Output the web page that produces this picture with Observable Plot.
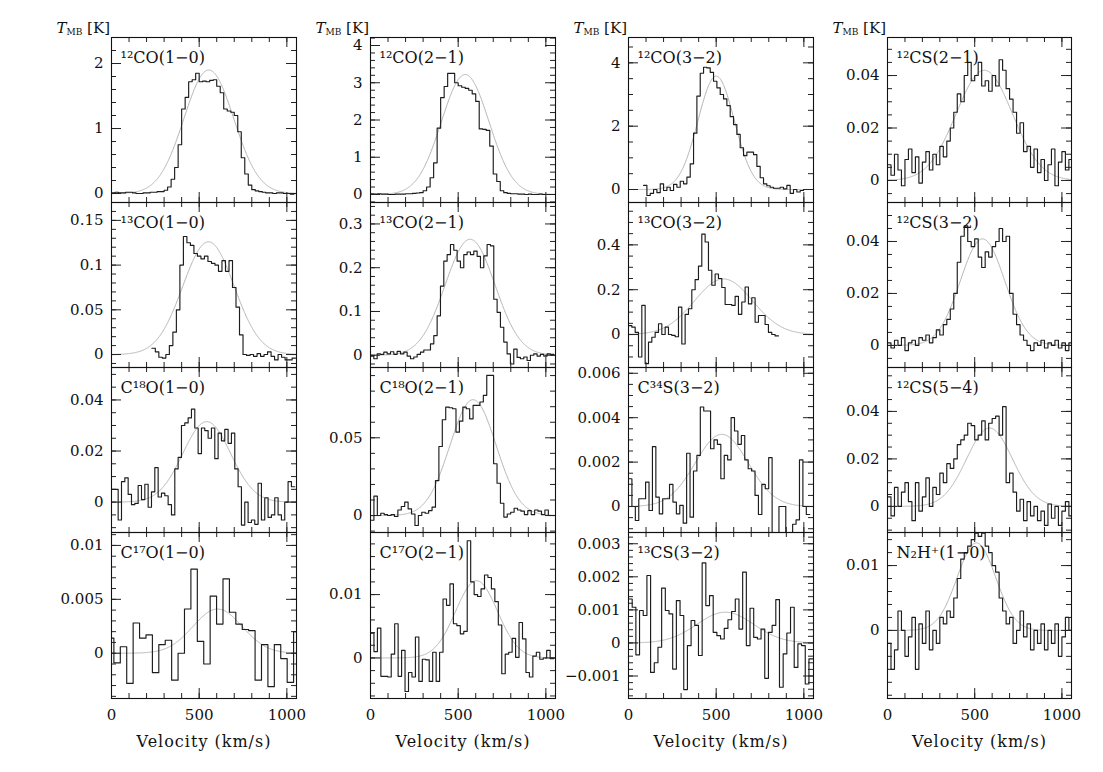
<!DOCTYPE html>
<html><head><meta charset="utf-8">
<script src="https://cdn.jsdelivr.net/npm/d3@7"></script>
<script src="https://cdn.jsdelivr.net/npm/@observablehq/plot@0.6"></script>
<style>
body{margin:0;background:#fff;}
#chart{position:relative;width:1103px;height:772px;font-family:"DejaVu Serif","Liberation Serif",serif;color:#111;}
#chart svg, #chart svg text{font-family:"DejaVu Serif","Liberation Serif",serif !important;}
#chart svg text.vlab{letter-spacing:1px;}
.ylab{position:absolute;font-size:15px;line-height:15px;white-space:nowrap;text-align:right;width:80px;font-family:"DejaVu Serif","Liberation Serif",serif;}
.ylab sub{font-size:9px;vertical-align:-2px;font-style:normal;}
</style></head><body><div id="chart"></div>
<script>
// ---------- spectra (T_MB in K), column-major: col1 CO(1-0) lines, col2 (2-1), col3 (3-2)/CS, col4 CS/N2H+ ----------
const co12_10 = [0.01,0.02,0.01,0.01,0.02,0.02,0.01,0.0,0.0,0.01,0.01,0.02,0.02,0.03,0.03,0.05,0.1,0.22,0.4,0.75,1.3,1.48,1.72,1.75,1.85,1.72,1.73,1.72,1.74,1.75,1.65,1.55,1.3,1.27,1.25,1.2,0.95,0.55,0.3,0.13,0.06,0.04,0.03,0.02,0.01,0.01,0.0,0.01,0.01,0.0,0.0,-0.01,0.0];
const co13_10 = [0.007,0.003,-0.003,-0.004,0.0,0.01,0.025,0.05,0.1,0.132,0.125,0.122,0.113,0.11,0.107,0.11,0.104,0.102,0.1,0.093,0.105,0.093,0.105,0.075,0.053,0.022,0.0,-0.001,0.0,-0.002,0.001,-0.002,0.0,0.003,-0.002,-0.006,0.0,-0.003,-0.006,-0.006,-0.004];
const c18o_10 = [0.005,0.005,-0.007,0.008,0.0095,0.003,-0.001,-0.0005,0.0065,0.001,0.007,-0.002,0.004,0.0135,0.002,0.0035,0.0025,-0.001,-0.005,0.013,0.0175,0.03,0.031,0.033,0.0364,0.029,0.019,0.029,0.028,0.025,0.029,0.017,0.027,0.024,0.0285,0.023,0.027,0.013,0.006,-0.009,0.0,-0.008,-0.007,-0.0087,0.0074,-0.007,0.0017,-0.006,-0.005,0.0017,-0.005,-0.007,0.0,0.008,0.006];
const c17o_10 = [0.0014,-0.0009,0.0006,-0.0028,0.0028,0.0014,0.0017,-0.0018,0.0008,0.0012,-0.0025,0.0,0.0041,0.0078,0.0011,-0.001,0.0053,0.0027,0.0069,0.0038,0.0027,0.0022,0.0021,-0.0025,0.0008,-0.0031,0.0008,-0.0005,-0.0027,0.002];
const co12_21 = [0.02,0.01,0.02,0.01,0.01,0.0,0.0,0.01,0.01,0.01,0.02,0.02,0.03,0.04,0.05,0.1,0.2,0.45,0.85,1.78,2.6,2.9,3.25,3.25,3.0,2.92,2.88,2.85,2.8,2.7,2.5,1.76,1.75,1.72,1.3,0.55,0.35,0.1,0.05,0.03,0.02,0.02,0.01,0.01,0.0,0.01,0.0,0.0,0.01,0.0,0.0,0.0,0.0];
const co13_21 = [-0.002,-0.008,0.003,0.002,0.007,0.003,0.008,0.002,0.009,0.003,0.007,-0.002,-0.008,-0.004,0.002,0.007,0.012,0.012,0.026,0.045,0.09,0.158,0.215,0.23,0.253,0.24,0.215,0.2,0.23,0.236,0.23,0.238,0.226,0.2,0.227,0.253,0.25,0.128,0.098,0.064,0.03,0.003,-0.02,0.014,-0.005,-0.008,-0.004,-0.012,0.0,0.003,-0.002,0.002,-0.002,0.003,0.002];
const c18o_21 = [-0.003,0.0125,0.0,0.0015,0.0006,0.0,0.0006,-0.0006,0.0036,0.0058,0.0086,0.0043,0.001,-0.0064,0.0,0.0021,0.0015,0.0032,0.0054,0.0225,0.0444,0.0616,0.0697,0.0693,0.0687,0.0536,0.0607,0.0697,0.0687,0.0622,0.0708,0.0708,0.073,0.0773,0.0901,0.0901,0.0333,0.0208,0.0079,-0.001,0.001,0.0021,0.0047,0.0036,0.0028,0.0006,0.0032,0.0006,0.0036,0.0028,0.0006,0.0036,0.0,0.0];
const c17o_21 = [0.0039,0.001,0.0047,-0.0029,-0.0029,-0.003,0.0006,0.0054,-0.0029,0.0012,-0.0053,-0.0023,-0.003,0.0033,-0.0037,-0.0002,-0.0003,-0.0037,0.0009,-0.0037,0.0009,0.0093,0.0083,0.0117,0.0054,0.0051,0.0038,0.0042,0.0185,0.012,0.01,0.0097,0.0109,0.0131,0.0127,0.0109,0.0089,0.0052,-0.0025,0.0006,0.0009,0.0031,0.0001,0.0056,0.003,-0.0023,-0.003,0.0003,0.0009,-0.0002,0.0,0.0012,-0.0001];
const co12_32 = [0.13,-0.19,-0.12,0.0,-0.1,0.18,-0.03,0.07,-0.03,0.16,0.07,0.26,0.18,0.39,0.81,1.78,2.95,3.67,3.86,3.84,3.7,3.42,3.21,3.0,2.86,2.65,2.3,2.05,1.74,1.32,1.07,1.18,1.18,1.1,0.73,0.37,0.18,0.12,0.07,0.04,0.04,0.07,0.02,0.13,-0.12,0.0,-0.08,-0.03,0.0,0.0,0.0];
const co13_32 = [0.04,0.033,0.01,-0.1,0.13,-0.13,-0.034,-0.012,0.01,0.048,0.0,0.033,0.0,-0.004,-0.01,0.122,-0.042,0.09,0.115,0.2,0.245,0.305,0.448,0.413,0.287,0.22,0.27,0.25,0.21,0.134,0.134,0.13,0.17,0.09,0.145,0.212,0.137,0.164,0.055,0.085,0.085,0.045,0.01,0.0,-0.006];
const c34s_32 = [0.00125,0.0,-0.00063,0.00035,0.00035,0.0011,-0.00018,0.0027,0.00042,-0.00033,0.00035,0.00035,0.001,0.0002,-0.00033,0.00005,-0.00075,0.0024,-0.00048,0.0016,0.0023,0.00448,0.0043,0.0043,0.0026,0.003,0.0028,0.00125,0.0023,0.0021,0.004,0.0034,0.0028,0.0032,0.0021,0.0017,0.0016,0.0005,-0.00036,0.001,0.0008,0.0022,-0.0013,-0.0013,0.0,0.0,-0.0013,-0.0013,-0.0008,-0.0006,0.0021,0.0,-0.00036];
const cs13_32 = [0.00133,0.00108,-0.00036,0.00098,0.00083,0.00204,-0.00089,-0.0006,-0.00013,0.00166,0.00098,0.00088,-0.00079,0.00128,0.00083,-0.00141,-0.00008,0.00068,0.00053,-0.00038,0.00242,0.00113,0.00143,0.00032,0.00022,0.00012,0.00044,0.0007,0.00095,0.00133,0.00042,0.00214,-0.00008,0.00105,0.00017,0.00012,0.00042,-0.00107,0.00032,0.00053,0.00131,-0.00134,-0.00033,0.0003,0.00108,-0.00074,-0.00003,-0.00008,-0.00124,-0.00048];
const cs12_21 = [0.006,0.002,0.01,0.004,-0.002,0.008,0.012,0.003,0.009,-0.001,0.007,0.011,0.004,0.01,0.006,0.013,0.009,0.015,0.02,0.026,0.033,0.03,0.04,0.045,0.038,0.04,0.045,0.036,0.038,0.034,0.04,0.036,0.046,0.042,0.035,0.031,0.026,0.018,0.022,0.011,0.013,0.005,0.012,0.003,0.008,0.0,0.006,0.012,-0.002,0.007,0.011,0.004,0.008];
const cs12_32 = [0.001,-0.001,0.002,0.0,0.003,-0.002,0.001,0.002,0.0,0.003,0.002,0.004,0.001,0.003,0.006,0.004,0.008,0.01,0.014,0.02,0.032,0.042,0.046,0.04,0.038,0.041,0.034,0.03,0.036,0.034,0.038,0.04,0.045,0.04,0.042,0.02,0.012,0.008,0.004,0.002,0.0,-0.002,0.001,0.0,0.002,-0.001,0.001,0.0,0.002,-0.001,0.001,-0.002,0.001];
const cs12_54 = [0.004,-0.004,0.008,0.0,0.006,0.01,0.002,-0.006,0.01,-0.002,0.004,0.012,0.0,0.008,0.005,0.014,0.01,0.018,0.016,0.02,0.026,0.028,0.03,0.035,0.034,0.028,0.03,0.036,0.028,0.035,0.037,0.038,0.03,0.042,0.01,0.014,0.006,-0.002,0.003,-0.006,0.002,-0.004,0.0,-0.006,-0.002,-0.008,0.001,-0.005,0.0,-0.008,-0.002,0.002,-0.004];
const n2h_10 = [-0.002,-0.006,-0.003,0.003,0.0,-0.004,-0.001,0.002,-0.006,0.001,-0.002,0.003,-0.003,0.0,-0.002,0.002,0.001,0.003,0.002,0.005,0.008,0.011,0.012,0.013,0.014,0.015,0.0145,0.015,0.013,0.012,0.01,0.009,0.005,0.003,0.001,0.002,-0.002,0.0,0.003,-0.001,0.001,-0.003,0.0,-0.002,0.001,-0.003,0.0,-0.002,0.001,-0.004,-0.001,0.002,0.0];

const spectra = [co12_10, co13_10, c18o_10, c17o_10, co12_21, co13_21, c18o_21, c17o_21, co12_32, co13_32, c34s_32, cs13_32, cs12_21, cs12_32, cs12_54, n2h_10];
const panelLabels = ["¹²CO(1−0)","¹³CO(1−0)","C¹⁸O(1−0)","C¹⁷O(1−0)","¹²CO(2−1)","¹³CO(2−1)","C¹⁸O(2−1)","C¹⁷O(2−1)","¹²CO(3−2)","¹³CO(3−2)","C³⁴S(3−2)","¹³CS(3−2)","¹²CS(2−1)","¹²CS(3−2)","¹²CS(5−4)","N₂H⁺(1−0)"];
// first channel edge and channel width (km/s)
const specStart = [0,230,0,-23,0,0,0,0,86,0,0,0,0,0,0,0];
const specStep = [20,20,19,36.6,20,19,19.5,19.7,19,19,19.5,21,20,20,20,20];
// Gaussian fits: amplitude, centre, FWHM
const fitAmp = [1.9,0.126,0.0315,0.0041,3.22,0.265,0.0745,0.0122,3.58,0.248,0.00325,0.00093,0.042,0.041,0.033,0.0135];
const fitCenter = [555,553,543,605,540,568,585,605,500,542,532,552,555,545,585,510];
const fitFwhm = [335,345,320,330,320,335,310,280,245,390,355,380,380,300,310,260];
// y axes
const yDomains = [[-0.138,2.4],[-0.0145,0.17],[-0.0119,0.0527],[-0.0042,0.0112],[-0.215,4.215],[-0.028,0.349],[-0.0109,0.0952],[-0.0064,0.0198],[-0.41,4.8],[-0.147,0.589],[-0.00117,0.00626],[-0.00168,0.00334],[-0.0084,0.0545],[-0.0085,0.055],[-0.011,0.0585],[-0.0105,0.0151]];
const yTickLabels = [[0,1,2],[0,0.05,0.1,0.15],[0,0.02,0.04],[0,0.005,0.01],[0,1,2,3,4],[0,0.1,0.2,0.3],[0,0.05],[0,0.01],[0,2,4],[0,0.2,0.4],[0,0.002,0.004,0.006],[-0.001,0,0.001,0.002,0.003],[0,0.02,0.04],[0,0.02,0.04],[0,0.02,0.04],[0,0.01]];
const yMinorStep = [0.2,0.01,0.005,0.001,0.2,0.02,0.01,0.002,0.5,0.05,0.0005,0.0002,0.005,0.005,0.005,0.002];
const xTickLabels = [0,500,1000];
const xDomain = [0,1055];

// ---------- layout ----------
const colLeft = [111,370,628,887], colRight = [296,555,813,1071];
const rowTop = [37,202,367,532], rowBottom = [202,367,532,698];
const FONT = '"DejaVu Serif", "Liberation Serif", serif';

const chart = document.getElementById("chart");
const fmt = d => d === 0 ? "0" : (d < 0 ? "\u2212" + String(-d) : String(d));
function stepRange(a, b, s) {
  const out = [];
  for (let k = Math.ceil(a / s - 1e-9); k <= Math.floor(b / s + 1e-9); k++) out.push(+(k * s).toPrecision(10));
  return out;
}

for (let c = 0; c < 4; c++) {
  const lab = document.createElement("div");
  lab.className = "ylab";
  lab.style.left = (colLeft[c] - 81) + "px";
  lab.style.top = "21px";
  lab.innerHTML = "<i>T</i><sub>MB</sub> [K]";
  chart.appendChild(lab);
  for (let r = 0; r < 4; r++) {
    const i = c * 4 + r;
    const W = colRight[c] - colLeft[c], H = rowBottom[r] - rowTop[r];
    const bottom = r === 3;
    const mL = 64, mR = 4, mT = 10, mB = bottom ? 62 : 10;
    const vals = spectra[i];
    const steps = vals.map((t, k) => ({v: specStart[i] + k * specStep[i], t}));
    steps.push({v: specStart[i] + vals.length * specStep[i], t: vals[vals.length - 1]});
    const fit = d3.range(xDomain[0], xDomain[1] + 1, 3).map(v => ({v, t: fitAmp[i] * Math.exp(-4 * Math.LN2 * ((v - fitCenter[i]) / fitFwhm[i]) ** 2)}));
    const [y0, y1] = yDomains[i];
    const yMinor = stepRange(y0, y1, yMinorStep[i]);
    const yMajor = yTickLabels[i];
    const xMinor = d3.range(0, 1001, 100);
    const marks = [
      Plot.line(fit, {x: "v", y: "t", stroke: "#b5b5b5", strokeWidth: 1, clip: true}),
      Plot.line(steps, {x: "v", y: "t", curve: "step-after", stroke: "#1c1c1c", strokeWidth: 1.15, clip: true}),
      Plot.tickY(yMinor, {y: d => d, insetRight: W - 5, stroke: "#222"}),
      Plot.tickY(yMinor, {y: d => d, insetLeft: W - 5, stroke: "#222"}),
      Plot.tickY(yMajor, {y: d => d, insetRight: W - 10, stroke: "#222"}),
      Plot.tickY(yMajor, {y: d => d, insetLeft: W - 10, stroke: "#222"}),
      Plot.tickX(xMinor, {x: d => d, insetBottom: H - 5, stroke: "#222"}),
      Plot.tickX(xMinor, {x: d => d, insetTop: H - 5, stroke: "#222"}),
      Plot.tickX(xTickLabels, {x: d => d, insetBottom: H - 10, stroke: "#222"}),
      Plot.tickX(xTickLabels, {x: d => d, insetTop: H - 10, stroke: "#222"}),
      Plot.frame({stroke: "#111", strokeWidth: 1.1}),
      Plot.axisY({ticks: yMajor, tickSize: 0, tickPadding: 8, tickFormat: fmt, label: null, fontSize: 15, fontFamily: FONT}),
      Plot.text([panelLabels[i]], {text: d => d, frameAnchor: "top-left", dx: 9, dy: 20, textAnchor: "start", lineAnchor: "middle", fontSize: 16, fontFamily: FONT, fill: "#111"})
    ];
    if (bottom) {
      marks.push(Plot.axisX({ticks: xTickLabels, tickSize: 0, tickPadding: 11, tickFormat: d => String(d), label: null, fontSize: 15, fontFamily: FONT}));
      marks.push(Plot.text(["Velocity (km/s)"], {text: d => d, frameAnchor: "bottom", dy: 43, lineAnchor: "middle", fontSize: 16, fontFamily: FONT, fill: "#111", className: "vlab"}));
    }
    const svg = Plot.plot({
      width: W + mL + mR,
      height: H + mT + mB,
      marginLeft: mL, marginRight: mR, marginTop: mT, marginBottom: mB,
      x: {domain: xDomain, axis: bottom ? undefined : null},
      y: {domain: [y0, y1]},
      style: {fontFamily: FONT, fontSize: "15px", background: "transparent", overflow: "visible", color: "#111"},
      marks
    });
    svg.style.position = "absolute";
    svg.style.left = (colLeft[c] - mL) + "px";
    svg.style.top = (rowTop[r] - mT) + "px";
    svg.style.maxWidth = "none";
    svg.style.fontFamily = FONT;
    svg.querySelectorAll("g.vlab text, text.vlab").forEach(t => t.setAttribute("letter-spacing", "1"));
    chart.appendChild(svg);
  }
}
</script></body></html>
